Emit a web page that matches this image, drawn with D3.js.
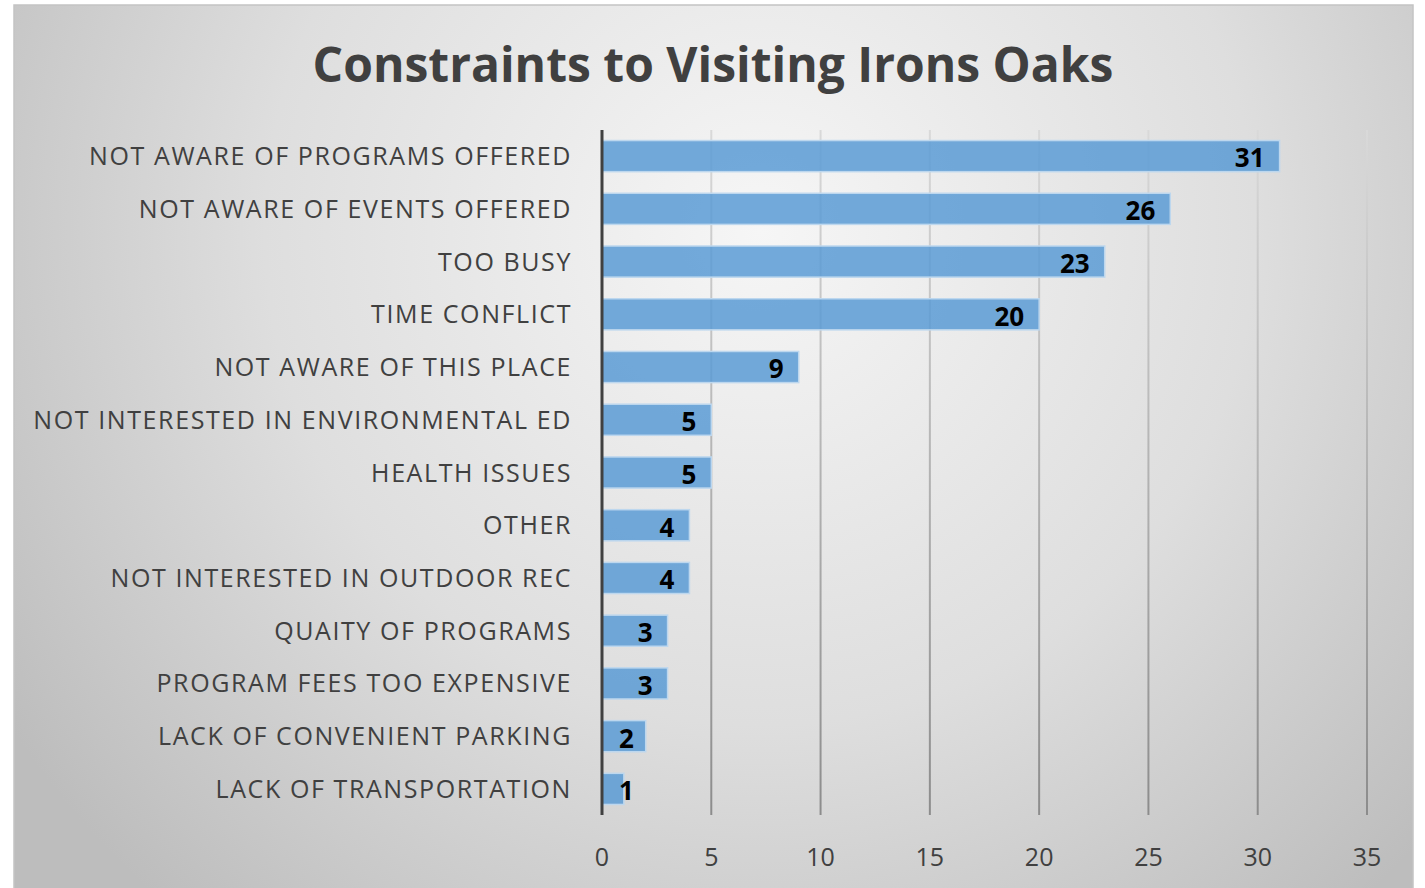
<!DOCTYPE html>
<html>
<head>
<meta charset="utf-8">
<script src="https://cdn.jsdelivr.net/npm/d3@7"></script>
<style>
  body { margin: 0; background: #fff; }
  text { font-family: "Open Sans", sans-serif; }
</style>
</head>
<body>
<div id="vis1"></div>
<script>
// chart values, top to bottom
var categories = [
  "NOT AWARE OF PROGRAMS OFFERED",
  "NOT AWARE OF EVENTS OFFERED",
  "TOO BUSY",
  "TIME CONFLICT",
  "NOT AWARE OF THIS PLACE",
  "NOT INTERESTED IN ENVIRONMENTAL ED",
  "HEALTH ISSUES",
  "OTHER",
  "NOT INTERESTED IN OUTDOOR REC",
  "QUAITY OF PROGRAMS",
  "PROGRAM FEES TOO EXPENSIVE",
  "LACK OF CONVENIENT PARKING",
  "LACK OF TRANSPORTATION"
];
var counts = [31, 26, 23, 20, 9, 5, 5, 4, 4, 3, 3, 2, 1];
var xTicks = [0, 5, 10, 15, 20, 25, 30, 35];
var title = "Constraints to Visiting Irons Oaks";

var w = 1425;
var h = 888;

var svg = d3.select("#vis1")
  .append("svg")
  .attr("width", w)
  .attr("height", h);

var defs = svg.append("defs");
var bg = defs.append("radialGradient")
  .attr("id", "bg")
  .attr("gradientUnits", "userSpaceOnUse")
  .attr("cx", 760).attr("cy", 230).attr("r", 900);
bg.append("stop").attr("offset", "0%").attr("stop-color", "#f6f6f6");
bg.append("stop").attr("offset", "55%").attr("stop-color", "#dedede");
bg.append("stop").attr("offset", "100%").attr("stop-color", "#bdbdbd");

var gridGrad = defs.append("linearGradient")
  .attr("id", "grid")
  .attr("gradientUnits", "userSpaceOnUse")
  .attr("x1", 0).attr("y1", 130).attr("x2", 0).attr("y2", 815);
gridGrad.append("stop").attr("offset", "0%").attr("stop-color", "#d9d9d9");
gridGrad.append("stop").attr("offset", "100%").attr("stop-color", "#8c8c8c");

// chart area
svg.append("rect")
  .attr("x", 14).attr("y", 5)
  .attr("width", 1399).attr("height", 890)
  .attr("fill", "url(#bg)")
  .attr("stroke", "#c4c4c4")
  .attr("stroke-width", 1.5);

svg.append("text")
  .attr("x", 713).attr("y", 82)
  .attr("text-anchor", "middle")
  .attr("font-size", 48)
  .attr("font-weight", "bold")
  .attr("fill", "#404040")
  .text(title);

var x = d3.scaleLinear().domain([0, 35]).range([602, 1367]);
var y = d3.scaleBand().domain(categories).range([130, 815]).paddingInner(0.41).paddingOuter(0.2);

// gridlines
svg.append("g")
  .selectAll("line")
  .data(xTicks.slice(1))
  .enter().append("line")
  .attr("x1", function(d) { return x(d); })
  .attr("x2", function(d) { return x(d); })
  .attr("y1", 130).attr("y2", 815)
  .attr("stroke", "url(#grid)")
  .attr("stroke-width", 2);

// bars
svg.append("g")
  .selectAll("rect")
  .data(categories)
  .enter().append("rect")
  .attr("x", x(0))
  .attr("y", function(d) { return y(d); })
  .attr("width", function(d, i) { return x(counts[i]) - x(0); })
  .attr("height", y.bandwidth())
  .attr("fill", "#5b9bd5")
  .attr("fill-opacity", 0.85)
  .attr("stroke", "#bdd7ee")
  .attr("stroke-width", 1.5);

// category labels
svg.append("g")
  .selectAll("text")
  .data(categories)
  .enter().append("text")
  .attr("x", 572)
  .attr("y", function(d) { return y(d) + y.bandwidth() / 2; })
  .attr("dy", "0.36em")
  .attr("text-anchor", "end")
  .attr("font-size", 25)
  .attr("letter-spacing", 1.6)
  .attr("fill", "#404040")
  .text(function(d) { return d; });

// value labels, inside end, but never left of the axis
var vals = svg.append("g")
  .selectAll("text")
  .data(categories)
  .enter().append("text")
  .attr("y", function(d) { return y(d) + y.bandwidth() / 2 + 2; })
  .attr("dy", "0.36em")
  .attr("text-anchor", "end")
  .attr("font-size", 26)
  .attr("font-weight", "bold")
  .attr("fill", "#000")
  .text(function(d, i) { return counts[i]; });
vals.attr("x", function(d, i) {
  var tw = this.getComputedTextLength();
  return Math.max(x(counts[i]) - 15, x(0) + 17 + tw);
});

// axis line
svg.append("line")
  .attr("x1", x(0)).attr("x2", x(0))
  .attr("y1", 130).attr("y2", 815)
  .attr("stroke", "#404040")
  .attr("stroke-width", 3);

// x tick labels
svg.append("g")
  .selectAll("text")
  .data(xTicks)
  .enter().append("text")
  .attr("x", function(d) { return x(d); })
  .attr("y", 866)
  .attr("text-anchor", "middle")
  .attr("font-size", 25)
  .attr("fill", "#404040")
  .text(function(d) { return d; });
</script>
</body>
</html>
